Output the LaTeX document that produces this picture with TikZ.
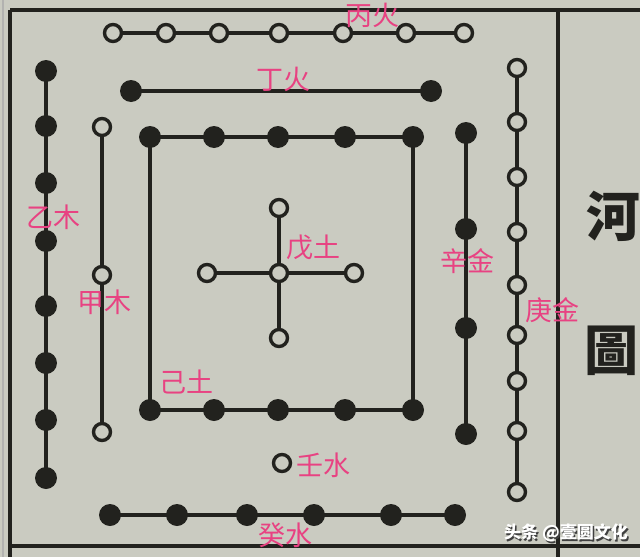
\documentclass[tikz,border=0pt]{standalone}
\usepackage{fontspec}
\newfontfamily\cjk{Noto Sans CJK SC}
\newfontfamily\cjktc{Noto Sans CJK TC}
\definecolor{paper}{RGB}{202,203,193}
\definecolor{ink}{RGB}{34,34,30}
\definecolor{pinkish}{RGB}{232,66,130}
\pgfdeclarelayer{paperlayer}
\pgfdeclarelayer{linklayer}
\pgfsetlayers{paperlayer,linklayer,main}
\tikzset{
  opendot/.style={circle,draw=ink,fill=paper,line width=3.4pt,minimum size=17pt,inner sep=0pt},
  fulldot/.style={circle,fill=ink,draw=none,minimum size=22pt,inner sep=0pt},
  link/.style={draw=ink,line width=3.2pt},
  framepart/.style={draw=ink,line width=3.4pt},
  lab/.style={text=pinkish,font=\cjk\fontsize{27}{27}\selectfont,inner sep=0pt},
  title/.style={text=ink,font=\cjktc\bfseries\fontsize{54}{54}\selectfont,inner sep=0pt},
  wm/.style={font=\cjk\bfseries\fontsize{17}{17}\selectfont,inner sep=0pt}
}
\begin{document}
\begin{tikzpicture}[x=1pt,y=-1pt]
\begin{pgfonlayer}{paperlayer}
\fill[paper] (0,0) rectangle (640,557);
\end{pgfonlayer}
\useasboundingbox (0,0) rectangle (640,557);
% frame
\coordinate (fTL) at (10,10);
\coordinate (fTR) at (640,10);
\coordinate (fBL) at (10,557);
\coordinate (fbL) at (10,546);
\coordinate (fbR) at (640,546);
\coordinate (fRT) at (558,10);
\coordinate (fRB) at (558,557);
\draw[framepart] (fTL) -- (fTR);
\draw[framepart] (fTL) -- (fBL);
\draw[framepart] (fbL) -- (fbR);
\draw[framepart] (fRT) -- (fRB);
\draw[draw=ink!35,line width=1.2pt] (3,0) -- (3,557);
% Bing fire: top row 7 open
\foreach \x [count=\i] in {113,166,219,279,343,406,464} \node[opendot] (bing\i) at (\x,33) {};
% Ding fire: 2 full
\node[fulldot] (ding1) at (131,91) {};
\node[fulldot] (ding2) at (431,91) {};
% Yi wood: 8 full
\foreach \y [count=\i] in {71,126,183,241,306,363,420,478} \node[fulldot] (yi\i) at (46,\y) {};
% Jia wood: 3 open
\foreach \y [count=\i] in {127,275,432} \node[opendot] (jia\i) at (102,\y) {};
% Ji earth: square of 10 full
\foreach \x [count=\i] in {150,214,278,345,413} {
  \node[fulldot] (jit\i) at (\x,137) {};
  \node[fulldot] (jib\i) at (\x,410) {};
}
% Wu earth: cross of 5 open
\node[opendot] (wuc) at (279,273) {};
\node[opendot] (wun) at (279,208) {};
\node[opendot] (wus) at (279,338) {};
\node[opendot] (wuw) at (207,273) {};
\node[opendot] (wue) at (354,273) {};
% Xin metal: 4 full
\foreach \y [count=\i] in {133,229,328,434} \node[fulldot] (xin\i) at (466,\y) {};
% Geng metal: 9 open
\foreach \y [count=\i] in {68,122,177,232,285,335,381,431,492} \node[opendot] (geng\i) at (517,\y) {};
% Ren water: 1 open
\node[opendot] (ren1) at (282,463) {};
% Gui water: 6 full
\foreach \x [count=\i] in {110,177,247,314,391,455} \node[fulldot] (gui\i) at (\x,515) {};
% connectors
\begin{pgfonlayer}{linklayer}
\draw[link] (bing1.center) -- (bing7.center);
\draw[link] (ding1.center) -- (ding2.center);
\draw[link] (yi1.center) -- (yi8.center);
\draw[link] (jia1.center) -- (jia3.center);
\draw[link] (jit1.center) -- (jit5.center);
\draw[link] (jib1.center) -- (jib5.center);
\draw[link] (jit1.center) -- (jib1.center);
\draw[link] (jit5.center) -- (jib5.center);
\draw[link] (wun.center) -- (wus.center);
\draw[link] (wuw.center) -- (wue.center);
\draw[link] (xin1.center) -- (xin4.center);
\draw[link] (geng1.center) -- (geng9.center);
\draw[link] (gui1.center) -- (gui6.center);
\end{pgfonlayer}
% labels
\node[lab] (lbing) at (372,15) {丙火};
\node[lab] (lding) at (283,79) {丁火};
\node[lab] (lyi) at (53,217) {乙木};
\node[lab] (ljia) at (104,302) {甲木};
\node[lab] (lwu) at (313,248) {戊土};
\node[lab] (lxin) at (467,261) {辛金};
\node[lab] (lgeng) at (552,310) {庚金};
\node[lab] (lji) at (186,382) {己土};
\node[lab] (lren) at (323,465) {壬水};
\node[lab] (lgui) at (285,535) {癸水};
% title
\node[title] (he) at (613,216) {河};
\node[title] (tu) at (611,351) {圖};
% watermark
\node[wm,text=black!75] (wmshadow) at (567.5,534.5) {头条 @壹圆文化};
\node[wm,text=white] (wmtext) at (566,533) {头条 @壹圆文化};
\end{tikzpicture}
\end{document}
